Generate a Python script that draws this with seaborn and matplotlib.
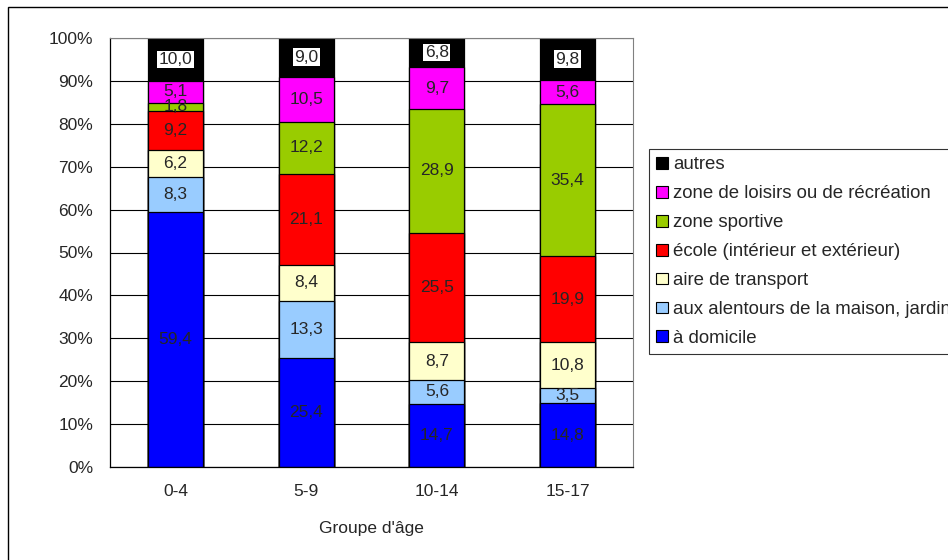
import numpy as np
import pandas as pd
import matplotlib.pyplot as plt
import matplotlib.patches as mpatches
import seaborn as sns

# Data (percent of accidents by place, per age group)
groups = ["0-4", "5-9", "10-14", "15-17"]
series = ["à domicile", "aux alentours de la maison, jardin", "aire de transport",
          "école (intérieur et extérieur)", "zone sportive",
          "zone de loisirs ou de récréation", "autres"]
domicile = [59.4, 25.4, 14.7, 14.8]
alentours = [8.3, 13.3, 5.6, 3.5]
transport = [6.2, 8.4, 8.7, 10.8]
ecole = [9.2, 21.1, 25.5, 19.9]
sportive = [1.8, 12.2, 28.9, 35.4]
loisirs = [5.1, 10.5, 9.7, 5.6]
autres = [10.0, 9.0, 6.8, 9.8]
colors = ["#0000FF", "#99CCFF", "#FFFFCC", "#FF0000", "#99CC00", "#FF00FF", "#000000"]

sns.set_style("white")
plt.rcParams['font.family'] = ['Liberation Sans', 'DejaVu Sans']
FS = 12.5
plt.rcParams['font.size'] = FS

values = np.array([domicile, alentours, transport, ecole, sportive, loisirs, autres])
totals = values.sum(axis=0)
pct = values / totals * 100
cum = np.cumsum(pct, axis=0)

fig = plt.figure(figsize=(9.48, 5.6), dpi=100)
ax = fig.add_axes([110 / 948, 1 - 467 / 560, (633 - 110) / 948, (467 - 38) / 560])

# outer chart border (cropped on right and bottom)
fig.patches.append(mpatches.Rectangle((8 / 948, -0.1), 1.2, 1.1 - 7 / 560, transform=fig.transFigure,
                                      fill=False, edgecolor="black", linewidth=1.0, zorder=0))

ax.set_ylim(0, 100)
ax.set_yticks(np.arange(0, 101, 10))
ax.yaxis.grid(True, color="black", linewidth=0.8)
ax.set_axisbelow(True)

# draw cumulative bars from the top series down so each overlays the previous
for i in range(len(series) - 1, -1, -1):
    df = pd.DataFrame({"groupe": groups, "cum": cum[i]})
    sns.barplot(data=df, x="groupe", y="cum", order=groups, color=colors[i], width=0.42,
                edgecolor="black", linewidth=0.9, saturation=1, ax=ax, zorder=2)

# segment labels
for i in range(len(series)):
    for j in range(len(groups)):
        y = cum[i][j] - pct[i][j] / 2
        txt = f"{values[i][j]:.1f}".replace(".", ",")
        if i == len(series) - 1:
            ax.text(j, y, txt, ha="center", va="center", fontsize=FS, zorder=5,
                    bbox=dict(facecolor="white", edgecolor="none", pad=1.0))
        else:
            ax.text(j, y, txt, ha="center", va="center", fontsize=FS, zorder=5)

ax.set_xlim(-0.5, 3.5)
ax.yaxis.set_major_formatter(plt.FuncFormatter(lambda v, p: f"{int(v)}%"))
ax.tick_params(axis="y", length=5, direction="out", color="black", pad=7, labelsize=FS)
ax.set_xticks(np.arange(-0.5, 4, 1), minor=True)
ax.tick_params(axis="x", which="major", length=0, pad=12, labelsize=FS)
ax.tick_params(axis="x", which="minor", length=6, direction="out", color="black")
ax.set_xlabel("Groupe d'âge", fontsize=FS, labelpad=16)
ax.set_ylabel("")

for side in ["top", "right"]:
    ax.spines[side].set_color("#808080")
    ax.spines[side].set_linewidth(0.8)
for side in ["left", "bottom"]:
    ax.spines[side].set_color("black")
    ax.spines[side].set_linewidth(0.9)

handles = [mpatches.Patch(facecolor=colors[i], edgecolor="black", linewidth=0.8, label=series[i])
           for i in range(len(series) - 1, -1, -1)]
leg = fig.legend(handles=handles, loc="upper left", bbox_to_anchor=(649 / 948, 1 - 149 / 560),
                 fontsize=13.4, frameon=True, fancybox=False, handlelength=0.6, handleheight=0.6,
                 handletextpad=0.3, labelspacing=0.64, borderpad=0.4, borderaxespad=0)
leg.get_frame().set_edgecolor("black")
leg.get_frame().set_linewidth(0.8)

fig.savefig("out.png", dpi=100)
